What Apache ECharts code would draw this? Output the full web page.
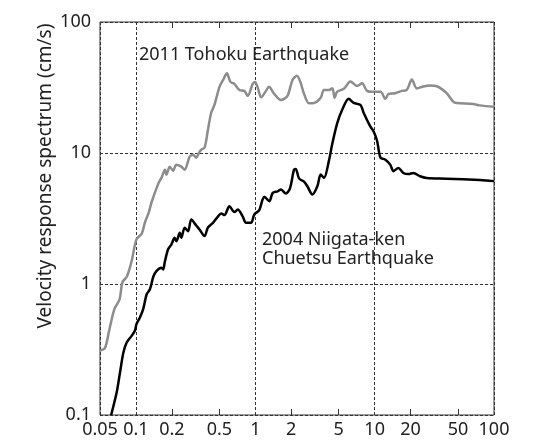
<!DOCTYPE html>
<html>
<head>
<meta charset="utf-8">
<script src="https://cdn.jsdelivr.net/npm/echarts@6/dist/echarts.min.js"></script>
<style>
  html, body { margin: 0; padding: 0; background: #fff; }
  #chart { width: 537px; height: 444px; }
</style>
</head>
<body>
<div id="chart"></div>
<script>
// periods (s) and velocity response (cm/s)
var tohokuPeriod = [0.05,0.055,0.060,0.066,0.073,0.077,0.084,0.092,0.101,0.112,
  0.119,0.128,0.135,0.154,0.164,0.175,0.180,0.192,0.205,0.218,
  0.240,0.256,0.282,0.301,0.320,0.341,0.353,0.376,0.401,0.427,
  0.455,0.501,0.538,0.578,0.619,0.668,0.736,0.810,0.865,0.951,
  0.994,1.05,1.12,1.23,1.30,1.44,1.64,1.86,2.05,2.23,
  2.40,2.56,2.82,3.10,3.53,3.76,4.14,4.42,4.62,4.86,
  5.52,6.27,7.13,7.85,8.64,9.81,11.2,12.3,13.1,14.9,
  16.9,18.6,20.5,22.6,25.6,29.1,32.7,35.3,40.1,45.5,
  48.6,66.8,76.0,100];
var tohokuVel = [0.31,0.324,0.452,0.642,0.765,1.03,1.14,1.49,2.19,2.43,
  2.95,3.51,4.19,5.84,6.49,7.46,6.84,7.87,7.33,8.15,
  7.87,7.46,9.37,9.71,9.21,10.2,10.6,11.0,15.0,20.3,
  23.3,32.0,36.1,40.6,34.9,33.7,30.3,29.8,27.3,33.7,
  34.9,31.4,26.6,29.8,32.0,28.3,25.4,27.3,36.1,38.8,
  34.3,28.3,24.0,24.1,26.4,30.3,30.3,31.2,26.4,29.4,
  30.9,35.1,32.5,34.1,29.8,29.3,29.3,25.9,28.3,28.6,
  29.8,30.3,36.4,31.1,32.2,32.8,32.5,31.4,28.6,24.7,
  24.1,23.7,23.1,22.5];

var niigataPeriod = [0.062,0.069,0.0736,0.0785,0.0837,0.092,0.098,0.101,0.108,0.115,
  0.123,0.131,0.140,0.149,0.164,0.169,0.175,0.186,0.198,0.211,
  0.218,0.233,0.240,0.256,0.273,0.291,0.320,0.341,0.376,0.401,
  0.442,0.486,0.518,0.552,0.607,0.668,0.713,0.785,0.837,0.921,
  0.981,1.08,1.15,1.19,1.31,1.40,1.54,1.64,1.80,1.95,
  2.11,2.18,2.33,2.56,2.73,3.01,3.31,3.53,3.76,4.14,
  4.42,4.86,5.35,6.07,6.68,7.60,8.10,9.21,9.81,10.5,
  10.8,11.2,12.3,13.5,14.4,15.8,17.4,19.2,21.1,24.0,
  27.3,40.1,76.0,100];
var niigataVel = [0.1,0.149,0.212,0.300,0.358,0.402,0.439,0.494,0.555,0.642,
  0.835,0.911,1.14,1.26,1.33,1.29,1.49,1.84,2.00,2.25,
  2.12,2.46,2.25,2.69,2.53,3.11,2.80,2.61,2.32,2.70,
  2.93,3.27,3.45,3.36,3.92,3.54,3.70,3.27,2.93,2.93,
  3.39,3.67,4.41,4.63,4.28,4.96,5.10,5.26,4.90,5.35,
  7.46,7.55,6.37,6.05,5.57,4.82,5.57,6.84,6.45,8.74,
  11.8,16.9,21.4,25.9,24.1,23.3,20.2,15.9,14.6,12.3,
  10.6,9.21,8.89,8.15,7.27,7.69,7.04,6.90,7.04,6.64,
  6.45,6.37,6.21,6.10];

var xLabelValues = [0.05, 0.1, 0.2, 0.5, 1, 2, 5, 10, 20, 50, 100];
var xMinorTicks = [0.2, 0.5, 2, 5, 20, 50];

function pairs(xs, ys) {
  return xs.map(function (x, i) { return [x, ys[i]]; });
}

var font = "Noto Sans";
var gridDash = { type: [3, 2], color: "#333", width: 1 };
var myChart = echarts.init(document.getElementById("chart"));
myChart.setOption({
  animation: false,
  textStyle: { fontFamily: font },
  grid: {
    left: 100, right: 43, top: 22, bottom: 29,
    show: true, borderColor: "#333", borderWidth: 1
  },
  xAxis: [
    {
      // labels + small inside ticks at the bottom
      type: "log", logBase: 10, min: 0.05, max: 100, position: "bottom",
      axisLine: { show: false },
      axisTick: { show: true, inside: true, length: 6, customValues: xMinorTicks,
        lineStyle: { color: "#333" } },
      axisLabel: { customValues: xLabelValues, margin: 6, fontSize: 18, color: "#222",
        fontFamily: font,
        formatter: function (v) { return String(+(+v).toPrecision(3)); } },
      splitLine: { show: false }
    },
    {
      // mirrored ticks on top
      type: "log", logBase: 10, min: 0.05, max: 100, position: "top",
      axisLine: { show: false },
      axisTick: { show: true, inside: true, length: 6, customValues: xMinorTicks,
        lineStyle: { color: "#333" } },
      axisLabel: { show: false },
      splitLine: { show: false }
    },
    {
      // decade grid lines only
      type: "log", logBase: 10, min: 0.05, max: 100, position: "bottom",
      axisLine: { show: false }, axisTick: { show: false }, axisLabel: { show: false },
      splitLine: { show: true, lineStyle: gridDash }
    }
  ],
  yAxis: {
    type: "log", logBase: 10, min: 0.1, max: 100,
    axisLine: { show: false },
    axisTick: { show: false },
    axisLabel: { margin: 9, fontSize: 18, color: "#222", fontFamily: font,
      formatter: function (v) { return String(+(+v).toPrecision(3)); } },
    splitLine: { show: true, lineStyle: gridDash }
  },
  graphic: [
    { type: "text", x: 46, y: 176, rotation: Math.PI / 2,
      style: { text: "Velocity response spectrum (cm/s)", font: "19px " + font,
        fill: "#222", align: "center", verticalAlign: "middle" } },
    { type: "text", x: 139, y: 55,
      style: { text: "2011 Tohoku Earthquake", font: "18px " + font,
        fill: "#222", align: "left", verticalAlign: "middle" } },
    { type: "text", x: 262, y: 240,
      style: { text: "2004 Niigata-ken", font: "18px " + font,
        fill: "#222", align: "left", verticalAlign: "middle" } },
    { type: "text", x: 262, y: 259,
      style: { text: "Chuetsu Earthquake", font: "18px " + font,
        fill: "#222", align: "left", verticalAlign: "middle" } }
  ],
  series: [
    {
      name: "2011 Tohoku Earthquake", type: "line", xAxisIndex: 0,
      data: pairs(tohokuPeriod, tohokuVel),
      showSymbol: false, smooth: 0.3,
      lineStyle: { color: "#8c8c8c", width: 2.5 }
    },
    {
      name: "2004 Niigata-ken Chuetsu Earthquake", type: "line", xAxisIndex: 0,
      data: pairs(niigataPeriod, niigataVel),
      showSymbol: false, smooth: 0.3,
      lineStyle: { color: "#000", width: 2.5 }
    }
  ]
});
</script>
</body>
</html>
